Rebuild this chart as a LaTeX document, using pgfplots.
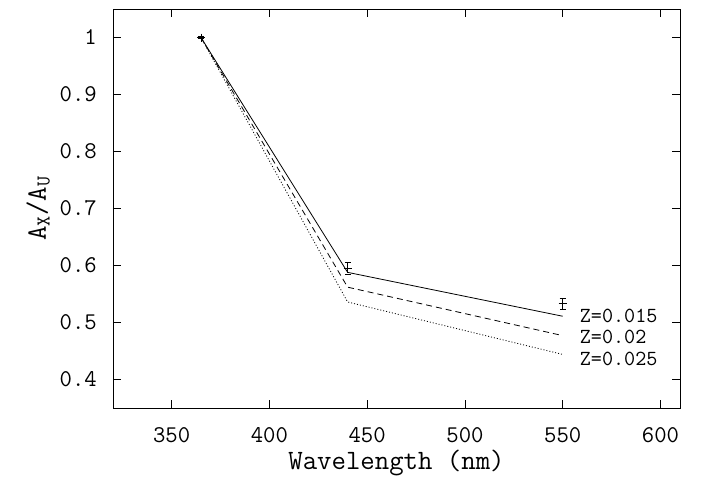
\documentclass[border=0pt]{standalone}
\usepackage{pgfplots}
\pgfplotsset{compat=1.18}
\usepackage{fontspec}
\renewcommand{\familydefault}{\ttdefault}
\begin{document}
\begin{tikzpicture}
\begin{axis}[
    scale only axis,
    width=567pt, height=399pt,
    xmin=320, xmax=610,
    ymin=0.35, ymax=1.05,
    xtick={350,400,450,500,550,600},
    ytick={0.4,0.5,0.6,0.7,0.8,0.9,1},
    yticklabel style={/pgf/number format/fixed},
    /pgf/number format/assume math mode=true,
    tick align=inside,
    major tick length=8pt,
    xtick pos=both, ytick pos=both,
    axis line style={line width=0.8pt},
    tick style={line width=0.8pt, black},
    tick label style={font=\ttfamily\fontsize{24}{28}\selectfont, inner sep=0pt},
    label style={font=\ttfamily\fontsize{28}{33}\selectfont},
    xlabel={Wavelength (nm)},
    ylabel={A\textsubscript{X}/A\textsubscript{U}},
    xticklabel style={anchor=center, yshift=-27pt},
    yticklabel style={anchor=east, xshift=-16pt},
    xlabel style={at={(axis description cs:0.5,-0.138)}, anchor=center},
    ylabel style={at={(axis description cs:-0.132,0.5)}, anchor=center},
    clip=false,
]

% models
\addplot[black, line width=0.8pt] coordinates {
    (365,1.000) (440,0.588) (550,0.511)
};
\addplot[black, line width=0.8pt, dash pattern=on 6pt off 4pt] coordinates {
    (365,1.000) (440,0.562) (550,0.477)
};
\addplot[black, line width=0.8pt, dash pattern=on 1pt off 2pt] coordinates {
    (365,1.000) (440,0.536) (550,0.444)
};

% observed
\addplot[black, only marks, mark=+, mark size=4pt, line width=0.8pt,
    error bars/.cd, y dir=both, y explicit,
    error bar style={line width=0.6pt, dash pattern=on 1pt off 1pt},
    error mark options={rotate=90, mark size=3pt, line width=0.6pt}]
    coordinates {
    (365,1.000) +- (0,0.002)
    (440,0.595) +- (0,0.010)
    (550,0.533) +- (0,0.009)
};

\node[anchor=west, font=\ttfamily\fontsize{21.5}{25}\selectfont] at (axis cs:557,0.512) {Z=0.015};
\node[anchor=west, font=\ttfamily\fontsize{21.5}{25}\selectfont] at (axis cs:557,0.475) {Z=0.02};
\node[anchor=west, font=\ttfamily\fontsize{21.5}{25}\selectfont] at (axis cs:557,0.436) {Z=0.025};

% page extent as in the reference
\path (axis description cs:-0.1993,-0.183) rectangle (axis description cs:1.0388,1.0226);
\end{axis}
\end{tikzpicture}
\end{document}
